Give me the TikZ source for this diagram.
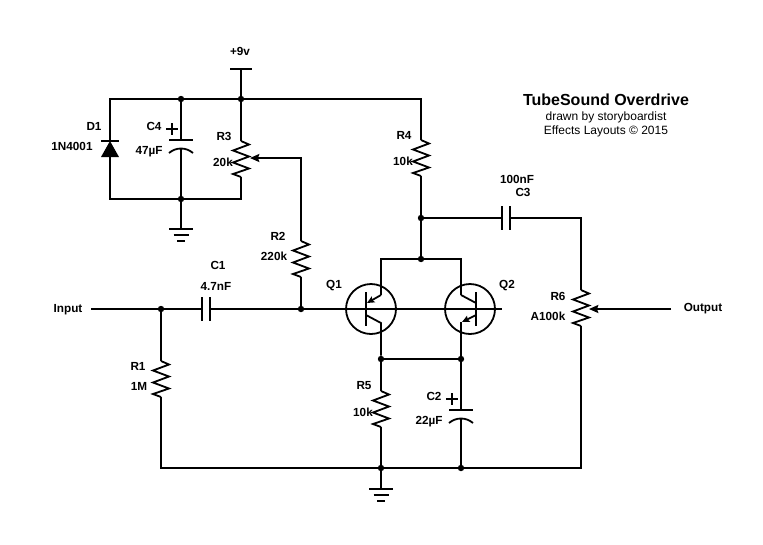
\documentclass[tikz,border=0pt]{standalone}
\usepackage{fontspec}
\setmainfont{Liberation Sans}
\usetikzlibrary{arrows.meta}
\usetikzlibrary{calc}
\tikzset{
	wire/.style={line width=1.35pt, line join=miter},
	dot/.style={circle, fill=black, inner sep=0pt, minimum size=4.8pt},
	qcircle/.style={circle, draw, line width=1.35pt, inner sep=0pt, minimum size=37.5pt},
	lbl/.style={font=\bfseries\fontsize{8.8}{10}\selectfont, inner sep=0pt},
	small/.style={font=\fontsize{9}{10}\selectfont, inner sep=0pt},
	tip/.style={-{Stealth[length=7pt,width=6pt,inset=1pt]}},
	qtip/.style={-{Stealth[length=5.5pt,width=5pt,inset=1pt]}},
}
\newcommand{\resist}[1]{\draw[wire] (#1) -- ++(8,3.5) -- ++(-16,6) -- ++(16,6) -- ++(-16,6) -- ++(16,6) -- ++(-16,5.5) -- ++(8,3);}
\newcommand{\gnd}[1]{\draw[wire] ($(#1)+(-12,0)$) -- ++(24,0) ($(#1)+(-7.5,6)$) -- ++(15,0) ($(#1)+(-4,12)$) -- ++(8,0);}
\newcommand{\polarcap}[2]{
	\draw[wire] ($(#1)+(-12,0)$) -- ++(24,0);
	\draw[wire] ($(#2)+(-12,5)$) .. controls ($(#2)+(-5,-1)$) and ($(#2)+(5,-1)$) .. ($(#2)+(12,5)$);
	\draw[line width=0.85pt] ($(#1)+(-15,-11)$) -- ++(12,0) ($(#1)+(-9,-17)$) -- ++(0,12);
}
\begin{document}
\begin{tikzpicture}[x=0.75pt, y=-0.75pt]
	\useasboundingbox (0,0) rectangle (763,544);

	% junctions
	\node[dot] (jtopc4) at (181,99) {};
	\node[dot] (jtop) at (241,99) {};
	\node[dot] (jbotc4) at (181,199) {};
	\node[dot] (jin) at (161,309) {};
	\node[dot] (jbase) at (301,309) {};
	\node[dot] (jc3) at (421,218) {};
	\node[dot] (jq) at (421,259) {};
	\node[dot] (jq1e) at (381,359) {};
	\node[dot] (jq2e) at (461,359) {};
	\node[dot] (jr5) at (381,468) {};
	\node[dot] (jc2) at (461,468) {};

	% end points
	\coordinate (vcc) at (241,69);
	\coordinate (d1tl) at (110,99);
	\coordinate (d1bl) at (110,199);
	\coordinate (d1k) at (110,141);
	\coordinate (d1a) at (110,157);
	\coordinate (r3b) at (241,199);
	\coordinate (r3top) at (241,141);
	\coordinate (r3bot) at (241,177);
	\coordinate (r3w) at (250,158);
	\coordinate (r2c) at (301,158);
	\coordinate (r2top) at (301,241);
	\coordinate (r2bot) at (301,277);
	\coordinate (r4c) at (421,99);
	\coordinate (r4top) at (421,140);
	\coordinate (r4bot) at (421,176);
	\coordinate (c4plate) at (181,140);
	\coordinate (c4arc) at (181,148);
	\coordinate (g1) at (181,229);
	\coordinate (g2) at (381,489);
	\coordinate (input) at (91,309);
	\coordinate (c1l) at (202,309);
	\coordinate (c1r) at (210,309);
	\coordinate (qend) at (502,309);
	\coordinate (c3l) at (502,218);
	\coordinate (c3r) at (510,218);
	\coordinate (r6c) at (581,218);
	\coordinate (r6top) at (581,290);
	\coordinate (r6bot) at (581,326);
	\coordinate (r6w) at (589,309);
	\coordinate (r6e) at (581,468);
	\coordinate (output) at (671,309);
	\coordinate (r1top) at (161,361);
	\coordinate (r1bot) at (161,397);
	\coordinate (r1e) at (161,468);
	\coordinate (r5top) at (381,391);
	\coordinate (r5bot) at (381,427);
	\coordinate (c2plate) at (461,410);
	\coordinate (c2arc) at (461,418);

	% supply and diode
	\draw[wire] ($(vcc)+(-11,0)$) -- ($(vcc)+(11,0)$);
	\draw[wire] (vcc) -- (r3top);
	\draw[wire] (d1k) -- (d1tl) -- (r4c) -- (r4top);
	\draw[wire] (d1a) -- (d1bl) -- (r3b) -- (r3bot);
	\draw[wire] ($(d1k)+(-9,0)$) -- ($(d1k)+(9,0)$);
	\fill (d1k) -- ($(d1a)+(9,0)$) -- ($(d1a)+(-9,0)$) -- cycle;
	\draw[wire] (jtopc4) -- (c4plate);
	\draw[wire] (c4arc) -- (g1);
	\polarcap{c4plate}{c4arc}
	\gnd{g1}
	\resist{r3top}
	\draw[wire, tip] (r2top) -- (r2c) -- (r3w);
	\resist{r2top}
	\draw[wire] (r2bot) -- (jbase);
	\resist{r4top}
	\draw[wire] (r4bot) -- (jq);

	% input and output
	\draw[wire] (input) -- (c1l);
	\draw[wire] (c1r) -- (qend);
	\draw[wire] ($(c1l)+(0,-12)$) -- ($(c1l)+(0,12)$);
	\draw[wire] ($(c1r)+(0,-12)$) -- ($(c1r)+(0,12)$);
	\draw[wire] (jc3) -- (c3l);
	\draw[wire] ($(c3l)+(0,-12)$) -- ($(c3l)+(0,12)$);
	\draw[wire] ($(c3r)+(0,-12)$) -- ($(c3r)+(0,12)$);
	\draw[wire] (c3r) -- (r6c) -- (r6top);
	\resist{r6top}
	\draw[wire] (r6bot) -- (r6e) -- (r1e) -- (r1bot);
	\draw[wire, tip] (output) -- (r6w);
	\draw[wire] (jin) -- (r1top);
	\resist{r1top}

	% transistors
	\node[qcircle] (q1) at (371,309) {};
	\node[qcircle] (q2) at (470,309) {};
	\draw[wire] (366,292) -- (366,326);
	\draw[wire] (476,292) -- (476,326);
	\draw[wire] (jq) -- (381,259) -- (381,295);
	\draw[wire] (jq) -- (461,259) -- (461,295);
	\draw[wire, qtip] (381,295) -- (367,303);
	\draw[wire] (366,315) -- (381,323) -- (jq1e);
	\draw[wire] (461,295) -- (476,303);
	\draw[wire, qtip] (476,315) -- (462,322);
	\draw[wire] (461,322) -- (jq2e);
	\draw[wire] (jq1e) -- (jq2e);

	% below the pair
	\draw[wire] (jq1e) -- (r5top);
	\resist{r5top}
	\draw[wire] (r5bot) -- (g2);
	\gnd{g2}
	\draw[wire] (jq2e) -- (c2plate);
	\draw[wire] (c2arc) -- (jc2);
	\polarcap{c2plate}{c2arc}

	% labels
	\node[lbl] (vcclbl) at (240,51) {+9v};
	\node[lbl] (d1n) at (94,126) {D1};
	\node[lbl] (d1v) at (72,146) {1N4001};
	\node[lbl] (c4n) at (154,126) {C4};
	\node[lbl] (c4v) at (149,152) {47µF};
	\node[lbl] (r3n) at (224,136) {R3};
	\node[lbl] (r3v) at (223,162) {20k};
	\node[lbl] (r2n) at (278,236) {R2};
	\node[lbl] (r2v) at (274,256) {220k};
	\node[lbl] (r4n) at (404,135) {R4};
	\node[lbl] (r4v) at (403,161) {10k};
	\node[lbl] (c3v) at (517,179) {100nF};
	\node[lbl] (c3n) at (523,192) {C3};
	\node[lbl] (c1n) at (218,265) {C1};
	\node[lbl] (c1v) at (216,286) {4.7nF};
	\node[lbl] (inlbl) at (68,310) {Input};
	\node[lbl] (outlbl) at (703,309) {Output};
	\node[lbl] (r6n) at (558,296) {R6};
	\node[lbl] (r6v) at (548,316) {A100k};
	\node[lbl] (r1n) at (138,366) {R1};
	\node[lbl] (r1v) at (139,386) {1M};
	\node[lbl] (q1n) at (334,286) {Q1};
	\node[lbl] (q2n) at (507,286) {Q2};
	\node[lbl] (r5n) at (364,386) {R5};
	\node[lbl] (r5v) at (363,412) {10k};
	\node[lbl] (c2n) at (434,396) {C2};
	\node[lbl] (c2v) at (429,422) {22µF};
	\node[font=\bfseries\fontsize{12}{14}\selectfont, inner sep=0pt] (title) at (606,100) {TubeSound Overdrive};
	\node[small] (sub1) at (606,117) {drawn by storyboardist};
	\node[small] (sub2) at (606,131) {Effects Layouts © 2015};
\end{tikzpicture}
\end{document}
